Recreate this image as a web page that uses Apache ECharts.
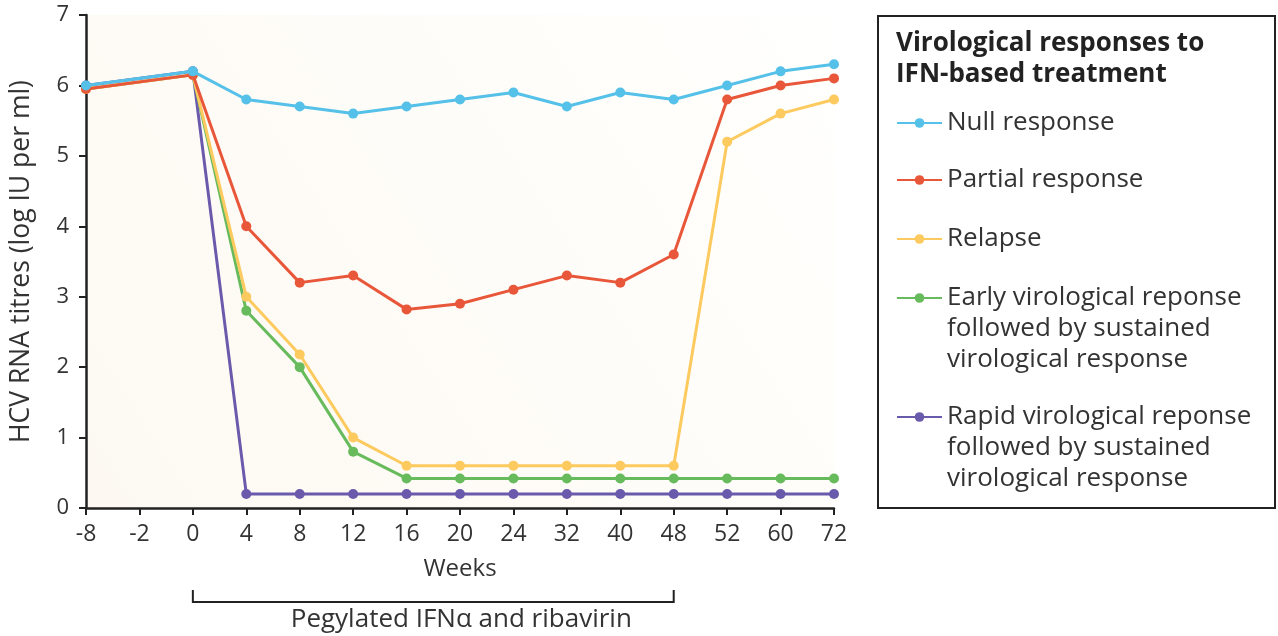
<!DOCTYPE html>
<html><head><meta charset="utf-8">
<script src="https://cdn.jsdelivr.net/npm/echarts@6/dist/echarts.min.js"></script>
<style>html,body{margin:0;padding:0;background:#fff}#c{width:1278px;height:636px}</style>
</head><body><div id="c"></div>
<script>
const weeks = ['-8','-2','0','4','8','12','16','20','24','32','40','48','52','60','72'];
const nullResponse    = [6.0, null, 6.2, 5.8, 5.7, 5.6, 5.7, 5.8, 5.9, 5.7, 5.9, 5.8, 6.0, 6.2, 6.3];
const partialResponse = [5.95, null, 6.15, 4.0, 3.2, 3.3, 2.82, 2.9, 3.1, 3.3, 3.2, 3.6, 5.8, 6.0, 6.1];
const relapse         = [5.95, null, 6.15, 3.0, 2.18, 1.0, 0.6, 0.6, 0.6, 0.6, 0.6, 0.6, 5.2, 5.6, 5.8];
const earlyResponse   = [5.95, null, 6.15, 2.8, 2.0, 0.8, 0.42, 0.42, 0.42, 0.42, 0.42, 0.42, 0.42, 0.42, 0.42];
const rapidResponse   = [6.0, null, 6.2, 0.2, 0.2, 0.2, 0.2, 0.2, 0.2, 0.2, 0.2, 0.2, 0.2, 0.2, 0.2];
const yTicks = [0,1,2,3,4,5,6,7];

const seriesNames = ['Null response','Partial response','Relapse',
  'Early virological reponse\nfollowed by sustained\nvirological response',
  'Rapid virological reponse\nfollowed by sustained\nvirological response'];
const seriesColors = ['#55c1e9','#e9573a','#fdca5f','#68bb5c','#6a5aab'];
const seriesData = [nullResponse, partialResponse, relapse, earlyResponse, rapidResponse];
const legendTitle = 'Virological responses to\nIFN-based treatment';
const treatmentLabel = 'Pegylated IFNα and ribavirin';
const treatmentStart = '0', treatmentEnd = '48';

const FONT = 'Open Sans';
const chart = echarts.init(document.getElementById('c'));

const lineH = 31;
const legendIconY = [123, 180, 239, 298, 417];
const legends = seriesNames.map((n, i) => {
  const lines = n.split('\n').length;
  const total = lines * 2 - 1;
  const boxH = total * lineH;
  return {
    data: [n], orient: 'vertical', left: 896, top: legendIconY[i] - boxH / 2,
    padding: 0, itemWidth: 45, itemHeight: 12, itemGap: 0,
    formatter: (name) => '\n'.repeat(lines - 1) + name,
    textStyle: { fontFamily: FONT, fontSize: 26, color: '#333', lineHeight: lineH }
  };
});

chart.setOption({
  animation: false,
  backgroundColor: '#fff',
  title: { text: legendTitle, left: 896, top: 28, padding: 0,
    textStyle: { fontFamily: FONT, fontSize: 26, fontWeight: 'bold', color: '#222', lineHeight: 31 } },
  legend: legends,
  grid: { left: 86, right: 1278 - 834, top: 15, bottom: 636 - 508, show: true,
    backgroundColor: { type: 'linear', x: 0, y: 1, x2: 1, y2: 0,
      colorStops: [{offset: 0, color: '#fdf9f2'}, {offset: 1, color: '#fffffd'}] },
    borderWidth: 0 },
  xAxis: {
    type: 'category', data: weeks, boundaryGap: false,
    name: 'Weeks', nameLocation: 'middle', nameGap: 49,
    nameTextStyle: { fontFamily: FONT, fontSize: 24, color: '#333' },
    axisLine: { lineStyle: { color: '#222', width: 2.5 } },
    axisTick: { show: true, length: 7, alignWithLabel: true, lineStyle: { color: '#222', width: 2 } },
    axisLabel: { fontFamily: FONT, fontSize: 23, color: '#333', margin: 15, interval: 0 },
    splitLine: { show: false }
  },
  yAxis: {
    type: 'value', min: yTicks[0], max: yTicks[yTicks.length - 1], interval: 1,
    name: 'HCV RNA titres (log IU per ml)', nameLocation: 'middle', nameGap: 51, nameRotate: 90,
    nameTextStyle: { fontFamily: FONT, fontSize: 26.5, color: '#333' },
    axisLine: { show: true, lineStyle: { color: '#222', width: 2.5 } },
    axisTick: { show: true, length: 7, lineStyle: { color: '#222', width: 2 } },
    axisLabel: { fontFamily: FONT, fontSize: 22, color: '#333', margin: 17 },
    splitLine: { show: false }
  },
  series: seriesNames.map((n, i) => ({
    name: n, type: 'line', data: seriesData[i], connectNulls: true,
    symbol: 'circle', symbolSize: 10, z: 10 - i,
    lineStyle: { color: seriesColors[i], width: 3 },
    itemStyle: { color: seriesColors[i] }
  }))
});

const x0 = chart.convertToPixel({xAxisIndex: 0}, treatmentStart);
const x1 = chart.convertToPixel({xAxisIndex: 0}, treatmentEnd);
chart.setOption({
  graphic: [
    { type: 'rect', shape: { x: 878, y: 16, width: 397, height: 492 },
      style: { fill: null, stroke: '#222', lineWidth: 2 }, z: 0 },
    { type: 'polyline', shape: { points: [[x0, 590], [x0, 602], [x1, 602], [x1, 590]] },
      style: { stroke: '#222', lineWidth: 2, fill: null } },
    { type: 'text', x: (x0 + x1) / 2 + 28, y: 620,
      style: { text: treatmentLabel, fontFamily: FONT, fontSize: 26, fill: '#333',
               align: 'center', verticalAlign: 'middle' } }
  ]
});
</script></body></html>
